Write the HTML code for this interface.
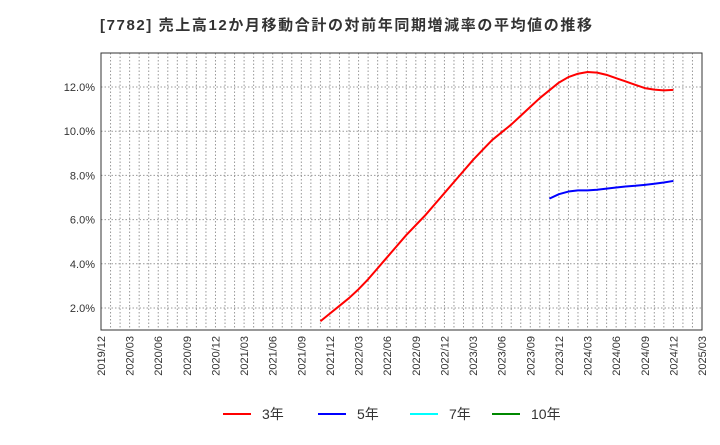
<!DOCTYPE html>
<html><head><meta charset="utf-8"><style>
body{margin:0;background:#fff;font-family:"Liberation Sans","Noto Sans CJK JP",sans-serif}
</style></head><body>
<svg id="c" width="720" height="440" xmlns="http://www.w3.org/2000/svg">
<text x="100" y="30" font-size="15" font-weight="bold" fill="#333" textLength="492" lengthAdjust="spacing" font-family="Liberation Sans,Noto Sans CJK JP,sans-serif">[7782]  売上高12か月移動合計の対前年同期増減率の平均値の推移</text>
<g id="grid"></g><g id="series"></g><g id="axes"></g>
<g id="legend" font-size="14" fill="#333" font-family="Liberation Sans,Noto Sans CJK JP,sans-serif"></g>
</svg>
<script>
const xLabels=["2019/12","2020/03","2020/06","2020/09","2020/12","2021/03","2021/06","2021/09","2021/12","2022/03","2022/06","2022/09","2022/12","2023/03","2023/06","2023/09","2023/12","2024/03","2024/06","2024/09","2024/12","2025/03"];
const yTicks=[2,4,6,8,10,12];
const red3Start=23;
const red3=[1.4,1.75,2.1,2.45,2.85,3.3,3.8,4.3,4.8,5.3,5.75,6.2,6.7,7.2,7.7,8.2,8.7,9.15,9.6,9.95,10.3,10.7,11.1,11.5,11.85,12.2,12.45,12.6,12.68,12.65,12.55,12.4,12.25,12.1,11.95,11.88,11.85,11.87];
const blue5Start=47;
const blue5=[6.95,7.15,7.27,7.32,7.32,7.35,7.4,7.45,7.5,7.53,7.57,7.62,7.68,7.75];
const L=101,R=702,T=53,B=330;
const X=m=>L+m*(R-L)/63;
const Y=v=>308-(v-2)*22.1;
const NS="http://www.w3.org/2000/svg";
function mk(t,a,p){const e=document.createElementNS(NS,t);for(const k in a)e.setAttribute(k,a[k]);p.appendChild(e);return e;}
const grid=document.getElementById('grid'),axes=document.getElementById('axes'),ser=document.getElementById('series'),leg=document.getElementById('legend');
for(let m=1;m<63;m++){const l=mk('line',{x1:X(m),x2:X(m),y1:T,y2:B,stroke:'#999','stroke-dasharray':'1.5,2','stroke-width':1},grid);

}
yTicks.forEach(v=>{const l=mk('line',{x1:L,x2:R,y1:Y(v),y2:Y(v),stroke:'#999','stroke-dasharray':'1.5,2','stroke-width':1},grid);


const t=mk('text',{x:L-6,y:Y(v)+4,'text-anchor':'end','font-size':11,fill:'#333'},axes);t.textContent=v.toFixed(1)+'%';

});
xLabels.forEach((s,i)=>{const x=X(i*3);const t=mk('text',{x:x+4,y:B+6,'text-anchor':'end','font-size':11,fill:'#333',transform:`rotate(-90 ${x+4} ${B+6})`},axes);t.textContent=s;

});
const fr=mk('rect',{x:L,y:T,width:R-L,height:B-T,fill:'none',stroke:'#333','stroke-width':1},axes);


function line(d,st,c,n){const p=mk('polyline',{points:d.map((v,i)=>X(st+i)+','+Y(v)).join(' '),fill:'none',stroke:c,'stroke-width':2,'stroke-linejoin':'round'},ser);

}
line(red3,red3Start,'#f00','series-3yr');
line(blue5,blue5Start,'#00f','series-5yr');
[[223,'#f00','3年'],[318,'#00f','5年'],[410,'#0ff','7年'],[492,'#080','10年']].forEach(([x,c,s])=>{
const g=mk('g',{},leg);


mk('line',{x1:x,x2:x+28,y1:414,y2:414,stroke:c,'stroke-width':2},g);
const t=mk('text',{x:x+39,y:419},g);t.textContent=s;});
</script>
</body></html>
